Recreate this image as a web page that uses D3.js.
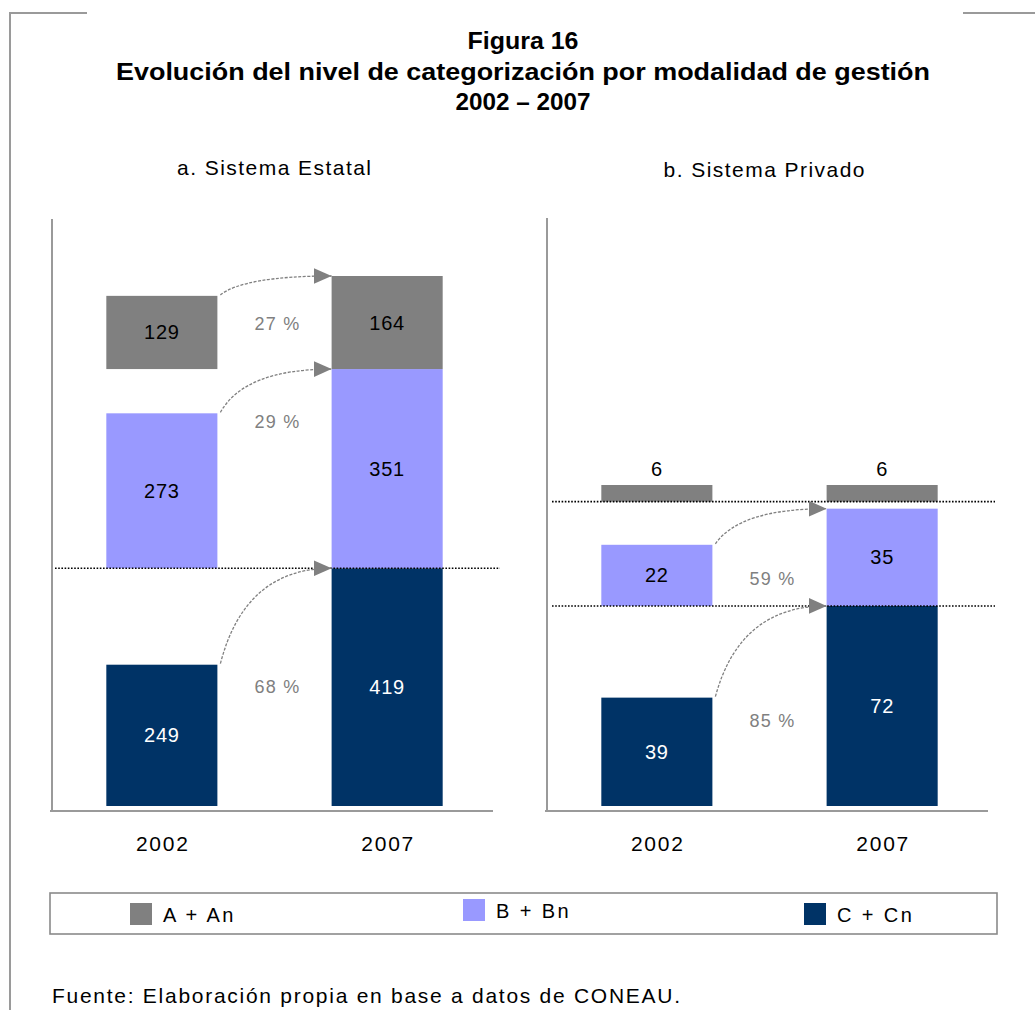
<!DOCTYPE html>
<html><head><meta charset="utf-8">
<script src="https://cdn.jsdelivr.net/npm/d3@7"></script>
<style>
html,body{margin:0;padding:0;background:#fff;}
svg{display:block;font-family:"Liberation Sans",Arial,sans-serif;}
</style></head>
<body>
<svg id="c" width="1035" height="1010"></svg>
<script>
// ---- data ----
const titleLines = ["Figura 16", "Evolución del nivel de categorización por modalidad de gestión", "2002 – 2007"];
const years = ["2002", "2007"];
const categories = ["C + Cn", "B + Bn", "A + An"];       // stacking order, bottom to top
const legendOrder = ["A + An", "B + Bn", "C + Cn"];
const panelTitles = ["a. Sistema Estatal", "b. Sistema Privado"];
const estatal2002 = [249, 273, 129];
const estatal2007 = [419, 351, 164];
const privado2002 = [39, 22, 6];
const privado2007 = [72, 35, 6];
const sourceNote = "Fuente: Elaboración propia en base a datos de CONEAU.";

// ---- styles / layout ----
const colors = {"A + An": "#808080", "B + Bn": "#9999ff", "C + Cn": "#003366"};
const labelColors = {"A + An": "#000", "B + Bn": "#000", "C + Cn": "#fff"};
const titleLayout = {y: [49, 80, 110], w: [111, 814, 135]};
const panels = [
  {title: panelTitles[0], v2002: estatal2002, v2007: estatal2007, xr: [50, 499], yr: [806, 276], titleX: 274, titleY: 175, titleW: 194,
   axisX: 52, axisTop: 219, axisRight: 493, dotted: [0], dotX: [55, 500], topGap: 0, pctLevel: [211, 678, 851]},
  {title: panelTitles[1], v2002: privado2002, v2007: privado2007, xr: [545, 994], yr: [806, 492], titleX: 764, titleY: 177, titleW: 201,
   axisX: 547, axisTop: 218, axisRight: 988, dotted: [0, 1], dotX: [552, 995], topGap: 7, pctLevel: [31, 82, null]}
];

const svg = d3.select("#c");
const axisY = 811;

// outer frame
const frame = svg.append("g").attr("stroke", "#9a9a9a").attr("stroke-width", 2).attr("fill", "none");
frame.append("path").attr("d", "M87,13H10V1010");
frame.append("path").attr("d", "M963,13H1035");

// titles
svg.append("g").selectAll("text").data(titleLines).join("text")
  .attr("x", 523).attr("y", (d, i) => titleLayout.y[i]).attr("text-anchor", "middle")
  .attr("font-weight", "bold").attr("font-size", 23).attr("fill", "#000")
  .attr("textLength", (d, i) => titleLayout.w[i]).attr("lengthAdjust", "spacingAndGlyphs")
  .text(d => d);

// arrow marker
svg.append("defs").append("marker").attr("id", "ah")
  .attr("viewBox", "0 0 18 16").attr("refX", 18).attr("refY", 8)
  .attr("markerWidth", 18).attr("markerHeight", 16).attr("markerUnits", "userSpaceOnUse")
  .attr("orient", "auto")
  .append("path").attr("d", "M0,0L18,8L0,16Z").attr("fill", "#808080");

panels.forEach(p => {
  const g = svg.append("g");
  const x = d3.scaleBand().domain(years).range(p.xr).paddingInner(0.507).paddingOuter(0.25);
  const total = d3.sum(p.v2007);
  const y = d3.scaleLinear().domain([0, total]).range(p.yr);

  // segments: 2007 stacked; 2002 segments start at 2007 cumulative base
  let base = 0;
  const segs = [];
  const k = Math.abs(y(1) - y(0));
  categories.forEach((c, i) => {
    const gap = (i === categories.length - 1) ? p.topGap : 0;
    const b = y(base) - gap;
    segs.push({cat: c, i, year: "2002", v: p.v2002[i], y0: b, y1: b - p.v2002[i] * k});
    segs.push({cat: c, i, year: "2007", v: p.v2007[i], y0: b, y1: b - p.v2007[i] * k});
    base += p.v2007[i];
  });

  // panel title
  g.append("text").attr("x", p.titleX).attr("y", p.titleY).attr("text-anchor", "middle")
    .attr("font-size", 21).attr("fill", "#000")
    .attr("textLength", p.titleW).attr("lengthAdjust", "spacing").text(p.title);

  // axes lines
  g.append("path").attr("d", `M${p.axisX},${p.axisTop}V${axisY}M${p.axisX - 2},${axisY}H${p.axisRight}`)
    .attr("stroke", "#9a9a9a").attr("stroke-width", 2).attr("fill", "none");

  // bars
  g.selectAll("rect.bar").data(segs).join("rect").attr("class", "bar")
    .attr("x", d => x(d.year)).attr("width", x.bandwidth())
    .attr("y", d => d.y1).attr("height", d => d.y0 - d.y1)
    .attr("fill", d => colors[d.cat]);

  // dotted lines
  p.dotted.forEach(i => {
    const yy = segs.find(s => s.i === i + 1 && s.year === "2007").y0;
    g.append("line").attr("x1", p.dotX[0]).attr("x2", p.dotX[1]).attr("y1", yy).attr("y2", yy)
      .attr("stroke", "#000").attr("stroke-width", 1.6).attr("stroke-dasharray", "1.6,1.6");
  });

  // value labels
  g.selectAll("text.val").data(segs).join("text").attr("class", "val")
    .attr("x", d => x(d.year) + x.bandwidth() / 2)
    .attr("y", d => {
      const h = d.y0 - d.y1;
      return h < 30 ? d.y1 - 9 : (d.y0 + d.y1) / 2 + 7;
    })
    .attr("text-anchor", "middle").attr("font-size", 20).attr("letter-spacing", 0.8)
    .attr("fill", d => (d.y0 - d.y1) < 30 ? "#000" : labelColors[d.cat]).text(d => d.v);

  // arrows + percentage change
  const xs = x("2002") + x.bandwidth(), xe = x("2007");
  categories.forEach((c, i) => {
    const a = p.v2002[i], b = p.v2007[i];
    if (a === b) return;
    const s = segs.find(d => d.i === i && d.year === "2002");
    const e = segs.find(d => d.i === i && d.year === "2007");
    const x0 = xs + 3, y0 = s.y1 - 1, x1 = xe, y1 = e.y1;
    const cx = x0 + 0.22 * (x1 - x0);
    g.append("path").attr("d", `M${x0},${y0}Q${cx},${y1} ${x1},${y1}`)
      .attr("fill", "none").attr("stroke", "#808080").attr("stroke-width", 1.3)
      .attr("stroke-dasharray", "3,1.5").attr("marker-end", "url(#ah)");
    const pct = Math.round((b / a - 1) * 100);
    g.append("text").attr("x", (xs + xe) / 2 + 3).attr("y", y(p.pctLevel[i]) + 7)
      .attr("text-anchor", "middle").attr("font-size", 18).attr("letter-spacing", 1.2).attr("fill", "#808080")
      .text(pct + " %");
  });

  // year labels
  g.selectAll("text.yr").data(years).join("text").attr("class", "yr")
    .attr("x", d => x(d) + x.bandwidth() / 2 + 1).attr("y", 851).attr("text-anchor", "middle")
    .attr("font-size", 21).attr("letter-spacing", 1.8).attr("fill", "#000").text(d => d);
});

// legend
const lg = svg.append("g");
lg.append("rect").attr("x", 50).attr("y", 893).attr("width", 947).attr("height", 41)
  .attr("fill", "none").attr("stroke", "#8a8a8a").attr("stroke-width", 1.6);
const legPos = {"A + An": [130, 903], "B + Bn": [463, 899], "C + Cn": [804, 903]};
legendOrder.forEach(c => {
  const [lx, ly] = legPos[c];
  lg.append("rect").attr("x", lx).attr("y", ly).attr("width", 22).attr("height", 22).attr("fill", colors[c]);
  lg.append("text").attr("x", lx + 33).attr("y", ly + 19).attr("font-size", 20).attr("letter-spacing", 2.4)
    .attr("fill", "#000").text(c);
});

// source
svg.append("text").attr("x", 52).attr("y", 1003).attr("font-size", 21)
  .attr("textLength", 628).attr("lengthAdjust", "spacing")
  .attr("fill", "#000").text(sourceNote);
</script>
</body></html>
